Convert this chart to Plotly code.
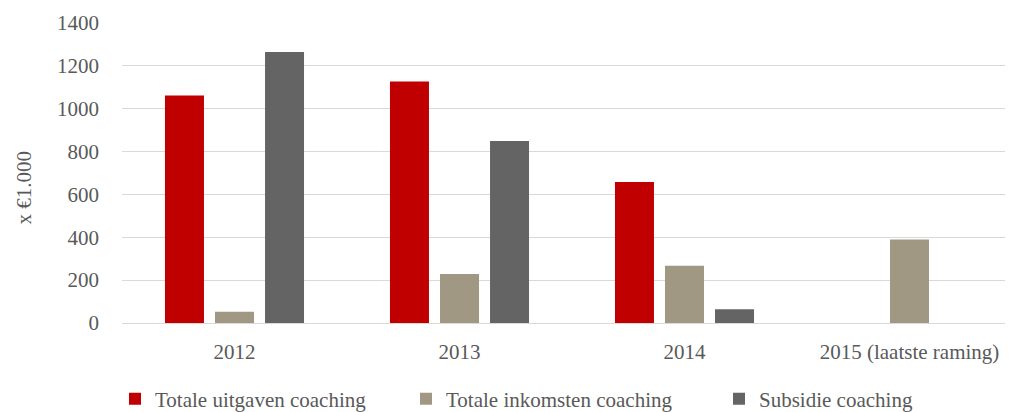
import plotly.graph_objects as go

categories = ["2012", "2013", "2014", "2015 (laatste raming)"]
uitgaven = [1062, 1127, 658, 0]
inkomsten = [52, 229, 267, 390]
subsidie = [1265, 849, 64, 0]

names = ["Totale uitgaven coaching", "Totale inkomsten coaching", "Subsidie coaching"]
colors = ["#C00000", "#A19884", "#646464"]
series = [uitgaven, inkomsten, subsidie]
legends = ["legend", "legend2", "legend3"]

FONT = "Liberation Serif"
TXT = "#595959"
FS = 21

fig = go.Figure()
for n, c, s, lg in zip(names, colors, series, legends):
    fig.add_trace(go.Bar(x=categories, y=s, name=n, marker=dict(color=c, line=dict(width=0)),
                         legend=lg, showlegend=True))

# page has an 8px body margin -> figure is 8px smaller
W, H = 1005, 404
ml, mt, mb = 114, 15, 89
pw = W - ml
ph = H - mt - mb
PLOT_LEFT_PAGE = 122
leg_y = -0.185
leg_x = [(p - PLOT_LEFT_PAGE) / pw for p in (115, 406, 719)]

legend_common = dict(orientation="h", yanchor="top", y=leg_y, xanchor="left",
                     font=dict(family=FONT, size=FS, color=TXT), bgcolor="rgba(0,0,0,0)",
                     borderwidth=0)

fig.update_layout(
    width=W, height=H,
    margin=dict(l=ml, r=0, t=mt, b=mb, autoexpand=False),
    paper_bgcolor="white", plot_bgcolor="white",
    font=dict(family=FONT, size=FS, color=TXT),
    showlegend=True,
    barmode="group", bargap=0.333, bargroupgap=0.22,
    legend=dict(legend_common, x=leg_x[0]),
    legend2=dict(legend_common, x=leg_x[1]),
    legend3=dict(legend_common, x=leg_x[2]),
    xaxis=dict(type="category", range=[-0.5, -0.5 + pw / 225], showgrid=False, showline=False,
               ticks="", automargin=False, ticklabelstandoff=14,
               tickfont=dict(family=FONT, size=FS, color=TXT)),
    yaxis=dict(range=[0, 1400], dtick=200, showgrid=True, gridcolor="#D9D9D9", gridwidth=1,
               zeroline=True, zerolinecolor="#D9D9D9", zerolinewidth=1, showline=False,
               automargin=False,
               ticks="", ticklabelstandoff=22, tickfont=dict(family=FONT, size=FS, color=TXT)),
    annotations=[dict(text="x €1.000", textangle=-90, xref="paper", yref="paper",
                      x=0, y=(323 - 187.5) / ph, xanchor="center", yanchor="middle",
                      xshift=23 - PLOT_LEFT_PAGE, showarrow=False,
                      font=dict(family=FONT, size=FS, color=TXT))],
)

fig.write_html("out.html")
